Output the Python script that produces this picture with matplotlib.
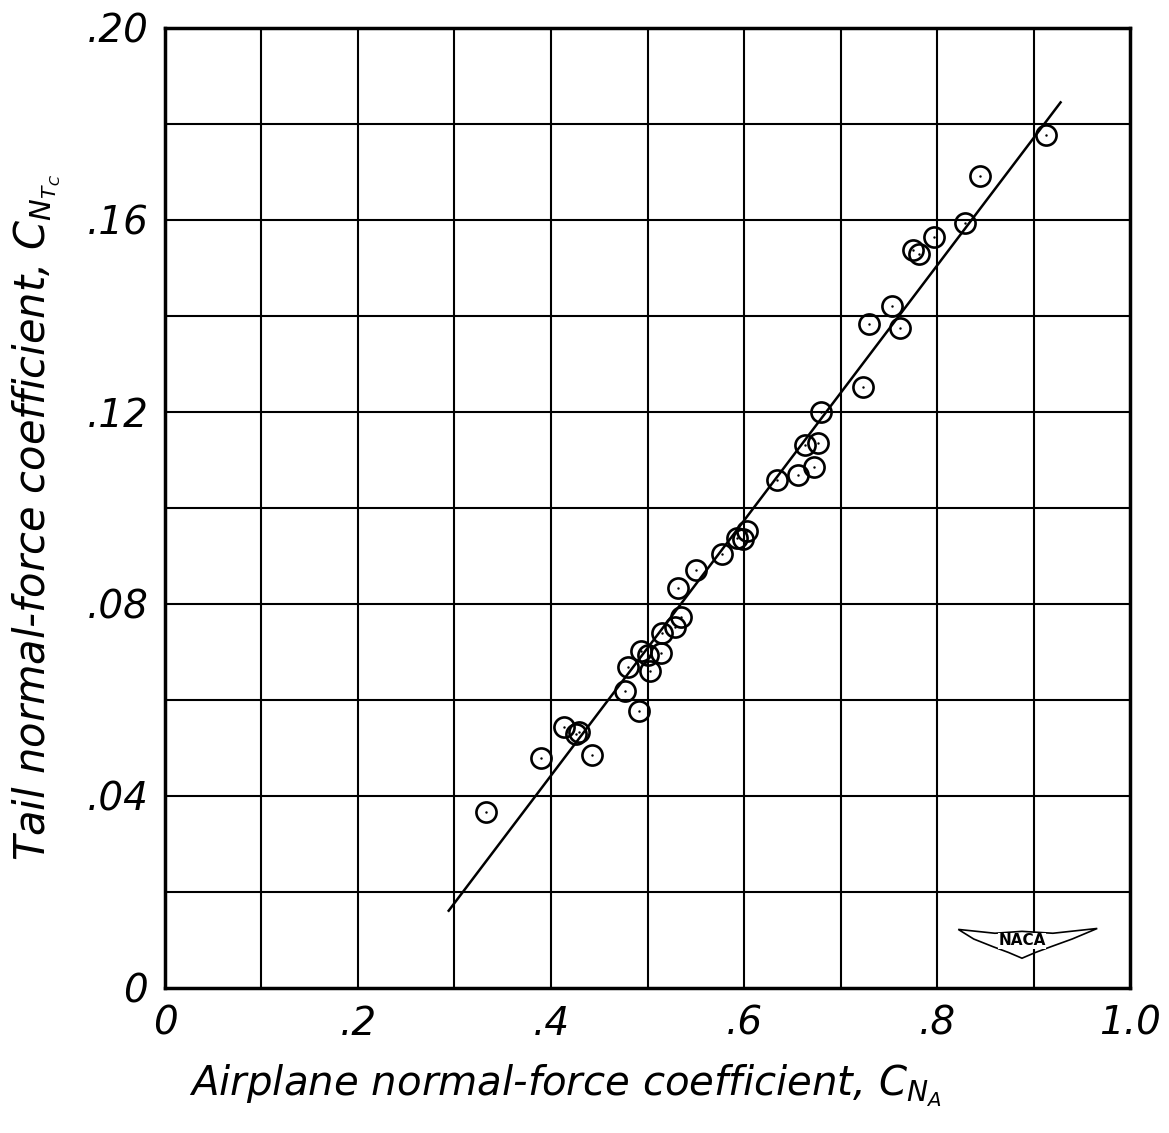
import numpy as np
import matplotlib.pyplot as plt
from matplotlib.patches import Polygon

# Test points
cn_airplane = [0.333, 0.390, 0.413, 0.426, 0.429, 0.442, 0.491, 0.477, 0.480,
               0.503, 0.493, 0.500, 0.514, 0.515, 0.528, 0.535, 0.532, 0.550,
               0.577, 0.593, 0.599, 0.603, 0.634, 0.656, 0.673, 0.663, 0.677,
               0.680, 0.723, 0.729, 0.753, 0.762, 0.775, 0.781, 0.797, 0.829,
               0.844, 0.913]
cn_tail = [0.0366, 0.0480, 0.0543, 0.0529, 0.0534, 0.0485, 0.0577, 0.0619, 0.0668,
           0.0660, 0.0703, 0.0693, 0.0697, 0.0740, 0.0753, 0.0772, 0.0833, 0.0871,
           0.0904, 0.0938, 0.0935, 0.0952, 0.1058, 0.1068, 0.1086, 0.1131, 0.1136,
           0.1199, 0.1252, 0.1384, 0.1421, 0.1374, 0.1537, 0.1530, 0.1565, 0.1593,
           0.1691, 0.1778]

# faired line
fair_x = [0.294, 0.928]
fair_y = [0.0161, 0.1845]

xticks = [0, 0.2, 0.4, 0.6, 0.8, 1.0]
xticklabels = ['0', '.2', '.4', '.6', '.8', '1.0']
yticks = [0, 0.04, 0.08, 0.12, 0.16, 0.20]
yticklabels = ['0', '.04', '.08', '.12', '.16', '.20']

fig = plt.figure(figsize=(11.69, 11.33), dpi=100)
ax = fig.add_axes([0.1411, 0.128, 0.8256, 0.8473])
ax.set_xlim(0, 1.0)
ax.set_ylim(0, 0.20)

for gx in np.arange(0.1, 1.0, 0.1):
    ax.axvline(gx, color='black', lw=1.5, zorder=1)
for gy in np.arange(0.02, 0.20, 0.02):
    ax.axhline(gy, color='black', lw=1.5, zorder=1)

ax.plot(fair_x, fair_y, color='black', lw=1.8, zorder=2)
ax.plot(cn_airplane, cn_tail, 'o', ms=14.5, mfc='none', mec='black', mew=1.9, zorder=3)
ax.plot(cn_airplane, cn_tail, '.', ms=1.5, color='black', zorder=4)

for s in ax.spines.values():
    s.set_linewidth(2.5)

ax.set_xticks(xticks)
ax.set_xticklabels(xticklabels)
ax.set_yticks(yticks)
ax.set_yticklabels(yticklabels)
ax.tick_params(length=0, labelsize=28, pad=12)
for lbl in ax.get_xticklabels() + ax.get_yticklabels():
    lbl.set_fontstyle('italic')

ax.set_xlabel(r'Airplane normal-force coefficient, $C_{N_A}$',
              fontsize=29, fontstyle='italic')
ax.set_ylabel(r'Tail normal-force coefficient, $C_{N_{T_C}}$',
              fontsize=30, fontstyle='italic')
ax.xaxis.set_label_coords(0.415, -0.078)
ax.yaxis.set_label_coords(-0.107, 0.49)

# NACA wing badge
wing = Polygon([[0.822, 0.061], [0.860, 0.057], [0.888, 0.059], [0.920, 0.057],
                [0.966, 0.062], [0.940, 0.051], [0.918, 0.043], [0.902, 0.037],
                [0.888, 0.031], [0.874, 0.037], [0.858, 0.043], [0.838, 0.051]],
               closed=True, transform=ax.transAxes, fill=False, lw=1.2, zorder=2)
ax.add_patch(wing)
ax.text(0.888, 0.049, 'NACA', transform=ax.transAxes, ha='center', va='center',
        fontsize=11, fontweight='bold', zorder=3,
        bbox=dict(facecolor='white', edgecolor='none', pad=0.5))

fig.savefig('out.png', dpi=100)
